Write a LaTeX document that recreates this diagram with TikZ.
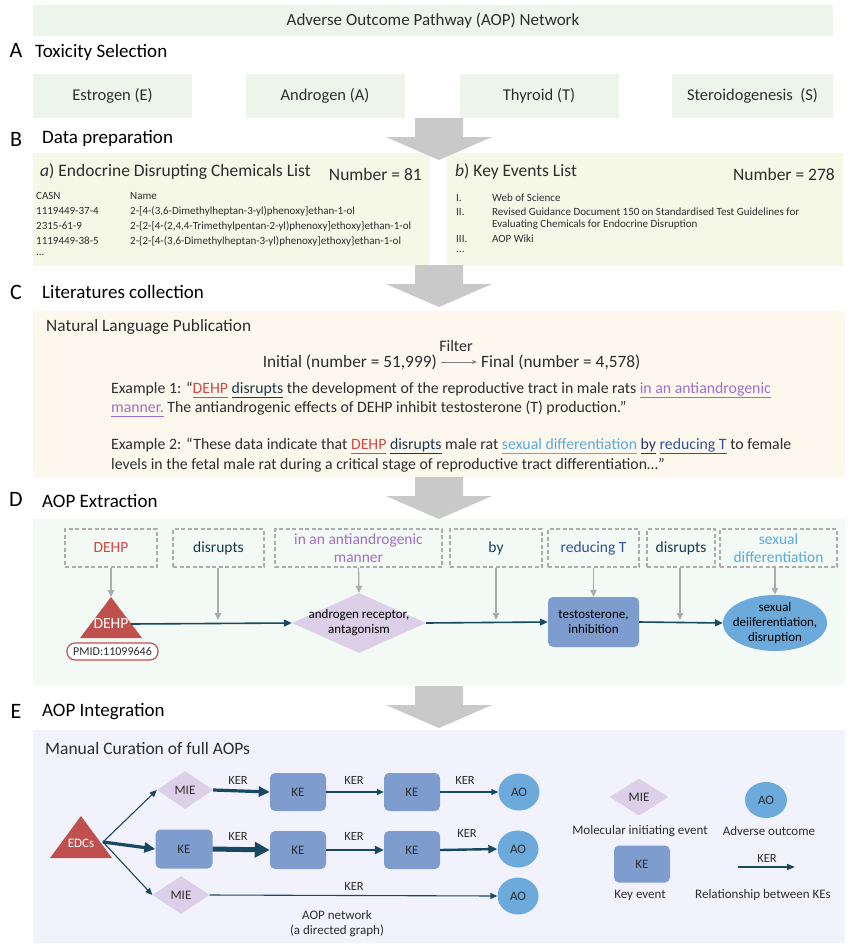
\documentclass[tikz,border=0pt]{standalone}
\usepackage{fontspec}
\setmainfont{Carlito}
\usetikzlibrary{shapes.geometric,arrows.meta}
\definecolor{titlegreen}{RGB}{237,245,235}
\definecolor{bpanel}{RGB}{245,247,231}
\definecolor{cpanel}{RGB}{252,248,238}
\definecolor{dpanel}{RGB}{243,249,244}
\definecolor{epanel}{RGB}{242,242,252}
\definecolor{arrgray}{RGB}{201,201,201}
\definecolor{dashgray}{RGB}{172,172,172}
\definecolor{redc}{RGB}{192,80,77}
\definecolor{redtxt}{RGB}{210,72,68}
\definecolor{tealc}{RGB}{24,72,98}
\definecolor{darktxt}{RGB}{25,58,78}
\definecolor{purp}{RGB}{160,110,200}
\definecolor{navy}{RGB}{31,56,100}
\definecolor{bluet}{RGB}{47,85,151}
\definecolor{lblue}{RGB}{91,170,222}
\definecolor{miefill}{RGB}{220,208,232}
\definecolor{kefill}{RGB}{127,156,207}
\definecolor{aofill}{RGB}{108,170,220}
\definecolor{txt}{RGB}{45,45,45}
\newcommand{\fs}[2]{\fontsize{#1}{#2}\selectfont}
\newcommand{\ulc}[2]{{\color{#1}\setbox0=\hbox{#2}\rlap{\rule[-4.5pt]{\wd0}{1.1pt}}\box0}}
\tikzset{
  lett/.style={font=\fs{22}{24}, inner sep=0, text=black},
  head/.style={font=\fs{19}{22}, anchor=west, inner sep=0, text=black},
  toxbox/.style={fill=titlegreen, minimum width=159, minimum height=44, inner sep=0, font=\fs{16.5}{19}, text=txt},
  sub/.style={font=\fs{17.5}{20}, anchor=west, inner sep=0, text=txt},
  tbl/.style={font=\fs{11}{13}, anchor=west, inner sep=0, text=txt},
  ctext/.style={font=\fs{17.3}{20}, inner sep=0, text=txt},
  extext/.style={font=\fs{15.8}{18}, anchor=west, inner sep=0, text=txt},
  dbox/.style={draw=dashgray, dash pattern=on 4pt off 2.5pt, line width=1.2pt, minimum height=38, inner sep=0, font=\fs{15.5}{17.5}, align=center},
  grayarr/.style={draw=dashgray, line width=1.3pt, -{Triangle[length=7pt,width=6.5pt]}},
  mainarr/.style={draw=tealc, line width=1.6pt, -{Triangle[length=8pt,width=7pt]}},
  mie/.style={diamond, fill=miefill, inner sep=0},
  ke/.style={rectangle, rounded corners=5pt, fill=kefill, inner sep=0},
  ao/.style={ellipse, fill=aofill, inner sep=0},
  ntext/.style={font=\fs{13}{15}, align=center, inner sep=0, text=black},
  etext/.style={font=\fs{13}{15}, align=center, inner sep=0, text=txt},
  kerl/.style={font=\fs{12.5}{14}, inner sep=0, text=txt},
  thinarr/.style={draw=tealc, line width=1.1pt, -{Triangle[length=7pt,width=6pt]}},
  medarr/.style={draw=tealc, line width=2.4pt, -{Triangle[length=9pt,width=8pt]}},
  thickarr/.style={draw=tealc, line width=3.2pt, -{Triangle[length=11pt,width=10pt]}},
  vthickarr/.style={draw=tealc, line width=5pt, -{Triangle[length=15pt,width=15pt]}},
  bigarrow/.pic={\fill[arrgray] (-24,0) -- (24,0) -- (24,19) -- (53,19) -- (0,42) -- (-53,19) -- (-24,19) -- cycle;}
}
\begin{document}
\begin{tikzpicture}[x=1pt,y=-1pt]
\useasboundingbox (0,0) rectangle (851,945);
\fill[white] (0,0) rectangle (851,945);

% ---------- Title ----------
\node[fill=titlegreen, minimum width=800, minimum height=31, inner sep=0, font=\fs{17}{20}, text=txt] (title) at (433,20.5) {Adverse Outcome Pathway (AOP) Network};

% ---------- A ----------
\node[lett] (lA) at (16,50) {A};
\node[head] (hA) at (35,52) {Toxicity Selection};
\node[toxbox] (tE) at (112.5,96) {Estrogen (E)};
\node[toxbox] (tA) at (325,96) {Androgen (A)};
\node[toxbox] (tT) at (539,96) {Thyroid (T)};
\node[toxbox, minimum width=161] (tS) at (752.5,96) {Steroidogenesis\ \ (S)};

% ---------- B ----------
\node[lett] (lB) at (16,139) {B};
\node[head] (hB) at (42,138) {Data preparation};
\fill[bpanel] (33,153) rectangle (430,266);
\fill[bpanel] (447,153) rectangle (843,266);
\node[sub] (ta) at (40,172) {\textit{a}) Endocrine Disrupting Chemicals List};
\node[sub, anchor=east] (na) at (422,174) {Number = 81};
\node[tbl] (c0) at (36,196) {CASN};
\node[tbl] (n0) at (130,196) {Name};
\node[tbl] (c1) at (36,211) {1119449-37-4};
\node[tbl] (n1) at (130,211) {2-[4-(3,6-Dimethylheptan-3-yl)phenoxy]ethan-1-ol};
\node[tbl] (c2) at (36,226) {2315-61-9};
\node[tbl] (n2) at (130,226) {2-\{2-[4-(2,4,4-Trimethylpentan-2-yl)phenoxy]ethoxy\}ethan-1-ol};
\node[tbl] (c3) at (36,241) {1119449-38-5};
\node[tbl] (n3) at (130,241) {2-\{2-[4-(3,6-Dimethylheptan-3-yl)phenoxy]ethoxy\}ethan-1-ol};
\node[tbl] (c4) at (36,255) {...};
\node[sub] (tb) at (455,172) {\textit{b}) Key Events List};
\node[sub, anchor=east] (nb) at (835,174) {Number = 278};
\node[tbl] (r1) at (456,198) {I.};
\node[tbl] (k1) at (492,198) {Web of Science};
\node[tbl] (r2) at (456,212) {II.};
\node[tbl] (k2) at (492,212) {Revised Guidance Document 150 on Standardised Test Guidelines for};
\node[tbl] (k2b) at (492,225) {Evaluating Chemicals for Endocrine Disruption};
\node[tbl] (r3) at (456,239) {III.};
\node[tbl] (k3) at (492,239) {AOP Wiki};
\node[tbl] (r4) at (456,252) {...};

% ---------- C ----------
\node[lett] (lC) at (16,292) {C};
\node[head] (hC) at (42,292) {Literatures collection};
\fill[cpanel] (33,311) rectangle (845,478);
\node[ctext, anchor=west] (nlp) at (46,327) {Natural Language Publication};
\node[ctext, font=\fs{16}{18}] (filt) at (456,346) {Filter};
\node[ctext, anchor=east] (init) at (437,362) {Initial (number = 51,999)};
\node[ctext, anchor=west] (fin) at (481,362) {Final (number = 4,578)};
\draw[draw=gray, line width=0.8pt, -{Stealth[length=5pt,width=4pt]}] ([xshift=4pt]init.east) -- ([xshift=-4pt]fin.west);
\node[extext] (ex1a) at (111,390) {Example 1: “\ulc{redtxt}{DEHP} \ulc{darktxt}{disrupts} the development of the reproductive tract in male rats \ulc{purp}{in an antiandrogenic}};
\node[extext] (ex1b) at (111,409) {\ulc{purp}{manner.} The antiandrogenic effects of DEHP inhibit testosterone (T) production.”};
\node[extext] (ex2a) at (111,446) {Example 2: “These data indicate that \ulc{redtxt}{DEHP} \ulc{darktxt}{disrupts} male rat \ulc{lblue}{sexual differentiation} \ulc{navy}{by} \ulc{bluet}{reducing T} to female};
\node[extext] (ex2b) at (111,465) {levels in the fetal male rat during a critical stage of reproductive tract differentiation…”};

% ---------- D ----------
\node[lett] (lD) at (16,499) {D};
\node[head] (hD) at (42,501) {AOP Extraction};
\fill[dpanel] (33,519) rectangle (845,685);
\node[dbox, minimum width=92, text=redtxt] (d1) at (111,548) {DEHP};
\node[dbox, minimum width=91, text=darktxt] (d2) at (218.5,548) {disrupts};
\node[dbox, minimum width=167, text=purp] (d3) at (358.5,548) {in an antiandrogenic\\manner};
\node[dbox, minimum width=92, text=navy] (d4) at (496,548) {by};
\node[dbox, minimum width=91, text=bluet] (d5) at (593.5,548) {reducing T};
\node[dbox, minimum width=68, text=darktxt] (d6) at (681,548) {disrupts};
\node[dbox, minimum width=117, text=lblue] (d7) at (778.5,548) {sexual\\differentiation};
% triangle DEHP
\fill[redc] (111,597) coordinate (triA) -- (142,638) -- (80,638) -- cycle;
\node[font=\fs{15.5}{17}, text=white, inner sep=0] (tri) at (111,624) {DEHP};
\coordinate (triR) at (131,624);
\node[draw=redc, line width=1.2pt, fill=white, rounded corners=8pt, minimum width=91, minimum height=17, inner sep=0, font=\fs{12}{14}, text=txt] (pmid) at (112.5,651.5) {PMID:11099646};
\node[mie, minimum width=134, minimum height=60] (dia) at (359,623) {};
\node[ntext] (diat) at (dia.center) {androgen receptor,\\antagonism};
\node[ke, minimum width=91, minimum height=50] (keD) at (593.5,622) {};
\node[ntext] (keDt) at (keD.center) {testosterone,\\inhibition};
\node[ao, minimum width=104, minimum height=56] (aoD) at (775,623) {};
\node[ntext] (aoDt) at (aoD.center) {sexual\\deiiferentiation,\\disruption};
\draw[mainarr] (triR) -- (dia.west);
\draw[mainarr] (dia.east) -- (keD.west);
\draw[mainarr] (keD.east) -- (aoD.west);
\coordinate (m2) at (218,620);
\coordinate (m4) at (496,620);
\coordinate (m6) at (680,620);
\draw[grayarr] (d1.south) -- (triA);
\draw[grayarr] (d2.south -| m2) -- (m2);
\draw[grayarr] (d3.south) -- (dia.north);
\draw[grayarr] (d4.south) -- (m4);
\draw[grayarr] (d5.south) -- (keD.north);
\draw[grayarr] (d6.south -| m6) -- (m6);
\draw[grayarr] (d7.south -| aoD.north) -- (aoD.north);

% ---------- E ----------
\node[lett] (lE) at (16,711) {E};
\node[head] (hE) at (42,712) {AOP Integration};
\fill[epanel] (33,730) rectangle (845,943);
\node[ctext, anchor=west, font=\fs{17.5}{20}] (mc) at (45,748) {Manual Curation of full AOPs};
\fill[redc] (81,816) -- (112,858) -- (50,858) -- cycle;
\node[font=\fs{13}{15}, text=white, inner sep=0] (edc) at (81,843) {EDCs};
\coordinate (edcR) at (103,842);
% row 1
\node[mie, minimum width=56, minimum height=38] (mie1) at (185,790) {};
\node[etext] at (mie1) {MIE};
\node[ke, minimum width=56, minimum height=38] (ke11) at (298,792) {};
\node[etext] at (ke11) {KE};
\node[ke, minimum width=56, minimum height=38] (ke12) at (412,792) {};
\node[etext] at (ke12) {KE};
\node[ao, minimum width=41, minimum height=37] (ao1) at (519,792) {};
\node[etext] at (ao1) {AO};
% row 2
\node[ke, minimum width=57, minimum height=39] (ke21) at (184,849) {};
\node[etext] at (ke21) {KE};
\node[ke, minimum width=56, minimum height=38] (ke22) at (298,850) {};
\node[etext] at (ke22) {KE};
\node[ke, minimum width=56, minimum height=38] (ke23) at (412,850) {};
\node[etext] at (ke23) {KE};
\node[ao, minimum width=41, minimum height=37] (ao2) at (518,849) {};
\node[etext] at (ao2) {AO};
% row 3
\node[mie, minimum width=57, minimum height=38] (mie3) at (181,895) {};
\node[etext] at (mie3) {MIE};
\node[ao, minimum width=41, minimum height=37] (ao3) at (518,896) {};
\node[etext] at (ao3) {AO};
% edges
\draw[thinarr] (edcR) -- (mie1.west);
\draw[thickarr] (edcR) -- (ke21.west);
\draw[thinarr] (edcR) -- (mie3.west);
\draw[thickarr] (mie1.east) -- (ke11.west);
\draw[thinarr] (ke11.east) -- (ke12.west);
\draw[thinarr] (ke12.east) -- (ao1.west);
\draw[vthickarr] (ke21.east) -- (ke22.west);
\draw[medarr] (ke22.east) -- (ke23.west);
\draw[medarr] (ke23.east) -- (ao2.west);
\draw[thinarr] (mie3.east) -- (ao3.west);
\node[kerl] (k11) at (238,780) {KER};
\node[kerl] (k12) at (354,780) {KER};
\node[kerl] (k13) at (465,780) {KER};
\node[kerl] (k21) at (238,836) {KER};
\node[kerl] (k22) at (354,836) {KER};
\node[kerl] (k23) at (467,833) {KER};
\node[kerl] (k31) at (354,886) {KER};
\node[etext] (net) at (337,924) {AOP network\\(a directed graph)};
% legend
\node[mie, minimum width=59, minimum height=37] (lmie) at (639,797) {};
\node[etext] at (lmie) {MIE};
\node[ao, minimum width=42, minimum height=36] (lao) at (766,800) {};
\node[etext] at (lao) {AO};
\node[etext] (lmiet) at (640,831) {Molecular initiating event};
\node[etext] (laot) at (769,831) {Adverse outcome};
\node[ke, minimum width=56, minimum height=37] (lke) at (642,864) {};
\node[etext] at (lke) {KE};
\coordinate (lk1) at (738,867);
\coordinate (lk2) at (795,867);
\draw[draw=tealc, line width=1.6pt, -{Triangle[length=8pt,width=6pt]}] (lk1) -- (lk2);
\node[kerl] (lkt) at (767,858) {KER};
\node[etext] (lket) at (640,895) {Key event};
\node[etext] (lkert) at (763,895) {Relationship between KEs};

% ---------- big grey arrows ----------
\pic at (439,118) {bigarrow};
\pic at (439,265) {bigarrow};
\pic at (439,477) {bigarrow};
\pic at (439,686) {bigarrow};
\end{tikzpicture}
\end{document}
